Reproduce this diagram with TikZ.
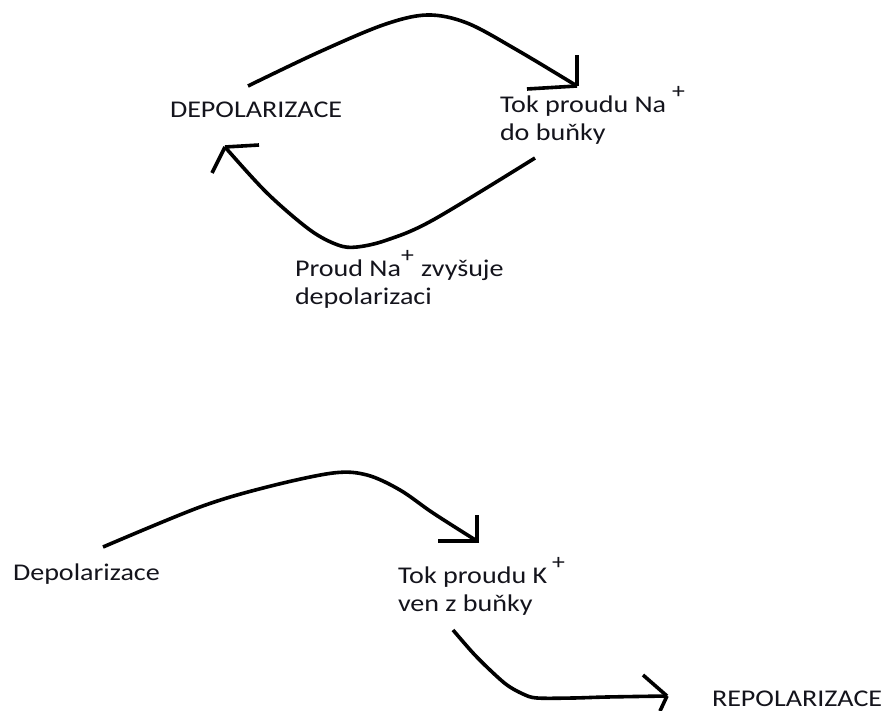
\documentclass[tikz,border=0pt]{standalone}
\usepackage{fontspec}
\setmainfont{Carlito}[FakeStretch=1.17]
\definecolor{ink}{RGB}{20,20,28}
\begin{document}
\begin{tikzpicture}[x=1pt,y=-1pt,
  lbl/.style={anchor=base west,inner sep=0pt,outer sep=0pt,text=ink,
    font=\fontsize{24}{27.5}\selectfont,align=left},
  stroke/.style={line width=3.6pt,line cap=butt,line join=miter},
  headline/.style={line width=3.6pt,line cap=butt}]
\useasboundingbox[fill=white] (0,0) rectangle (896,711);
\newcommand{\plusup}{\raisebox{0.6em}{\fontsize{22}{22}\selectfont +}}

% labels (anchor = baseline of the last line)
\node[lbl] (depol1) at (170,118) {DEPOLARIZACE};
\node[lbl] (tokna) at (500,140.5) {Tok proudu Na\hspace{0.25em}\plusup\\do buňky};
\node[lbl] (proud) at (295,304) {Proud Na\plusup\hspace{0.3em}zvyšuje\\depolarizaci};
\node[lbl] (depol2) at (13,580) {Depolarizace};
\node[lbl] (tokk) at (398,611) {Tok proudu K\hspace{0.2em}\plusup\\ven z buňky};
\node[lbl] (repol) at (712,706) {REPOLARIZACE};

% connector ends
\coordinate (a1s) at (248,86);
\coordinate (a1t) at (577,86);
\coordinate (a2s) at (535,158);
\coordinate (a2t) at (225,147);
\coordinate (a3s) at (103,547);
\coordinate (a3t) at (477,541);
\coordinate (a4s) at (453,630);
\coordinate (a4t) at (667,696);

% top arrow: DEPOLARIZACE -> Tok proudu Na+
\draw[stroke] plot[smooth,tension=0.55] coordinates
  {(a1s) (317,53) (383,25) (427,15) (467,23) (517,50) (a1t)};
\draw[headline] (a1t) -- (577,55);
\draw[headline] (a1t) -- (527,89);

% return arrow: Tok proudu Na+ -> DEPOLARIZACE
\draw[stroke] plot[smooth,tension=0.55] coordinates
  {(a2s) (433,220) (387,240) (357,247) (338,245) (310,230) (267,193) (a2t)};
\draw[headline] (a2t) -- (259,145);
\draw[headline] (a2t) -- (212,173);

% bottom arrow: Depolarizace -> Tok proudu K+
\draw[stroke] plot[smooth,tension=0.55] coordinates
  {(a3s) (200,507) (267,487) (333,473) (367,475) (400,490) (433,513) (a3t)};
\draw[headline] (477,543) -- (477,515);
\draw[headline] (479,541) -- (438,541);

% final arrow: Tok proudu K+ -> REPOLARIZACE
\draw[stroke] plot[smooth,tension=0.55] coordinates
  {(a4s) (473,653) (490,670) (507,685) (523,694) (537,698) (573,698) (607,697) (a4t)};
\draw[headline] (a4t) -- (643,675);
\draw[headline] (a4t) -- (660,711);
\end{tikzpicture}
\end{document}
